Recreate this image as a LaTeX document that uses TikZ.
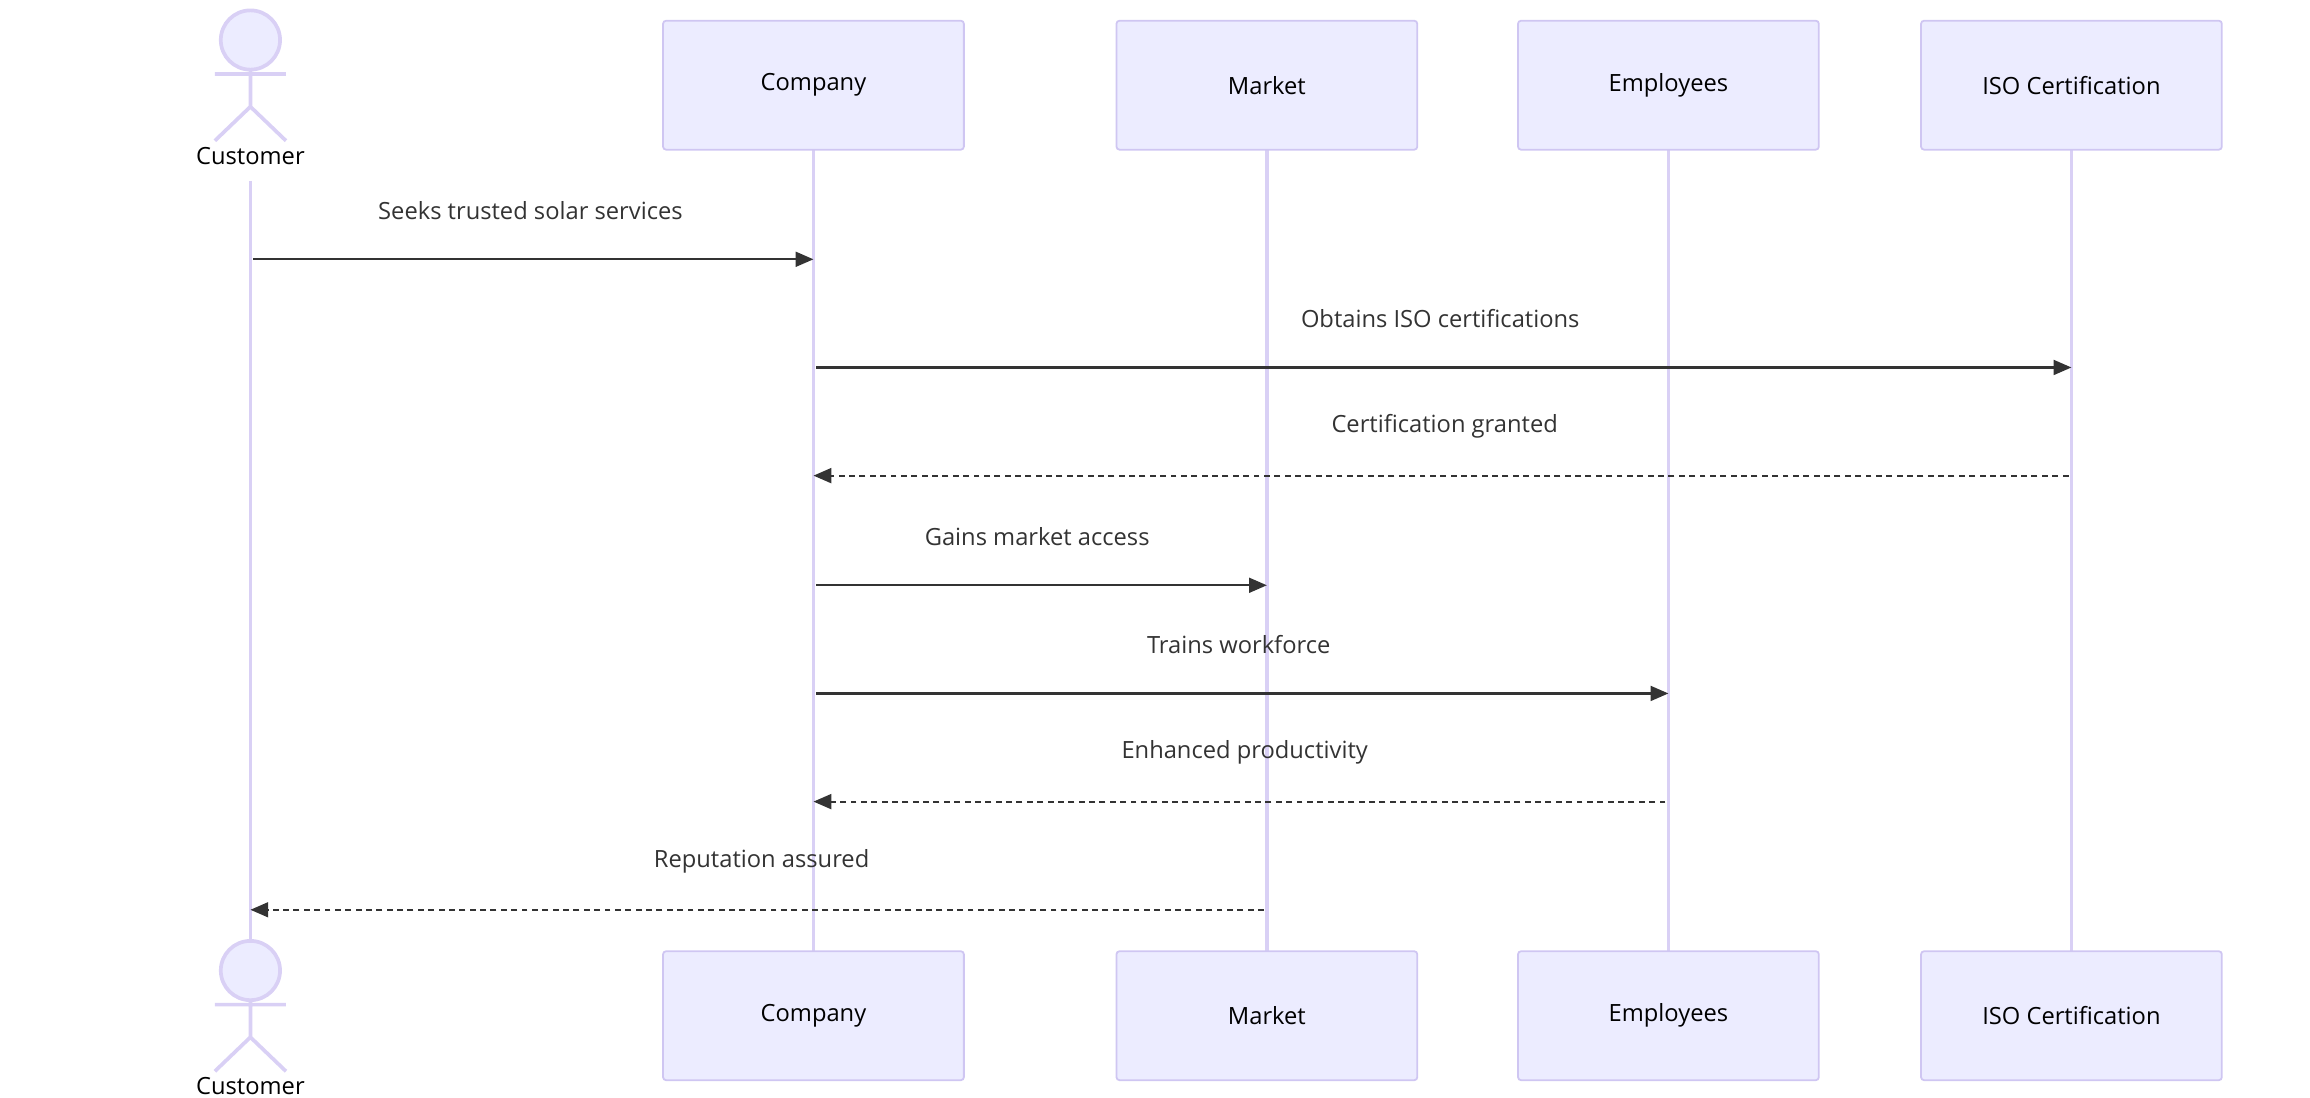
\documentclass[tikz,border=0pt]{standalone}
\usepackage{fontspec}
\setmainfont{Open Sans}
\usetikzlibrary{arrows.meta}
\definecolor{boxfill}{HTML}{ECECFF}
\definecolor{boxline}{HTML}{CFC6F2}
\definecolor{life}{HTML}{D9D0F5}
\definecolor{msg}{HTML}{333333}
\begin{document}
\begin{tikzpicture}[x=1pt,y=-1pt,
 box/.style={draw=boxline,line width=1.2pt,fill=boxfill,rounded corners=2pt,minimum width=203pt,minimum height=87pt,font=\fontsize{16}{18}\selectfont,text=black},
 lbl/.style={font=\fontsize{16}{18}\selectfont,text=msg},
 m/.style={draw=msg,line width=1.5pt,-{Triangle[length=12pt,width=10pt]}},
 d/.style={m,dash pattern=on 4pt off 3pt},
 ll/.style={draw=life,line width=2.5pt},
 act/.style={draw=life,line width=2.5pt}]
\useasboundingbox (0,0) rectangle (1559,741);
% lifelines
\coordinate (c1) at (169,122); \coordinate (c2) at (169,635);
\draw[ll] (c1)--(c2);
\foreach \n/\x/\t in {co/549/Company,ma/855/Market,em/1126/Employees,is/1398/ISO Certification}{
 \coordinate (\n t) at (\x,101); \coordinate (\n b) at (\x,642);
 \draw[ll] (\n t)--(\n b);
 \node[box] (\n T) at (\x,57.5) {\t};
 \node[box] (\n B) at (\x,685.5) {\t};
}
% actors
\foreach \y/\n in {0/top,628/bot}{
 \begin{scope}[yshift=-\y pt]
 \node[act,fill=boxfill,circle,minimum size=40pt,inner sep=0] (h\n) at (169,27) {};
 \draw[act] (169,47)--(169,72) (145,50)--(193,50) (145,95)--(169,72)--(193,95);
 \node[font=\fontsize{16}{18}\selectfont] (cl\n) at (169,105) {Customer};
 \end{scope}}
% messages
\foreach \n/\x in {cu/171,co/551,co2/549,ma/855,em/1126,is/1398,cua/169}{}
\coordinate (A1) at (171,175); \coordinate (B1) at (549,175);
\draw[m] (A1)--(B1); \node[lbl] at (358,142) {Seeks trusted solar services};
\coordinate (A2) at (551,248); \coordinate (B2) at (1398,248);
\draw[m] (A2)--(B2); \node[lbl] at (972,215) {Obtains ISO certifications};
\coordinate (A3) at (1396,321); \coordinate (B3) at (549,321);
\draw[d] (A3)--(B3); \node[lbl] at (975,288) {Certification granted};
\coordinate (A4) at (551,395); \coordinate (B4) at (855,395);
\draw[m] (A4)--(B4); \node[lbl] at (700,362) {Gains market access};
\coordinate (A5) at (551,468); \coordinate (B5) at (1126,468);
\draw[m] (A5)--(B5); \node[lbl] at (836,435) {Trains workforce};
\coordinate (A6) at (1124,541); \coordinate (B6) at (549,541);
\draw[d] (A6)--(B6); \node[lbl] at (840,508) {Enhanced productivity};
\coordinate (A7) at (853,614); \coordinate (B7) at (169,614);
\draw[d] (A7)--(B7); \node[lbl] at (514,581) {Reputation assured};
\end{tikzpicture}
\end{document}
